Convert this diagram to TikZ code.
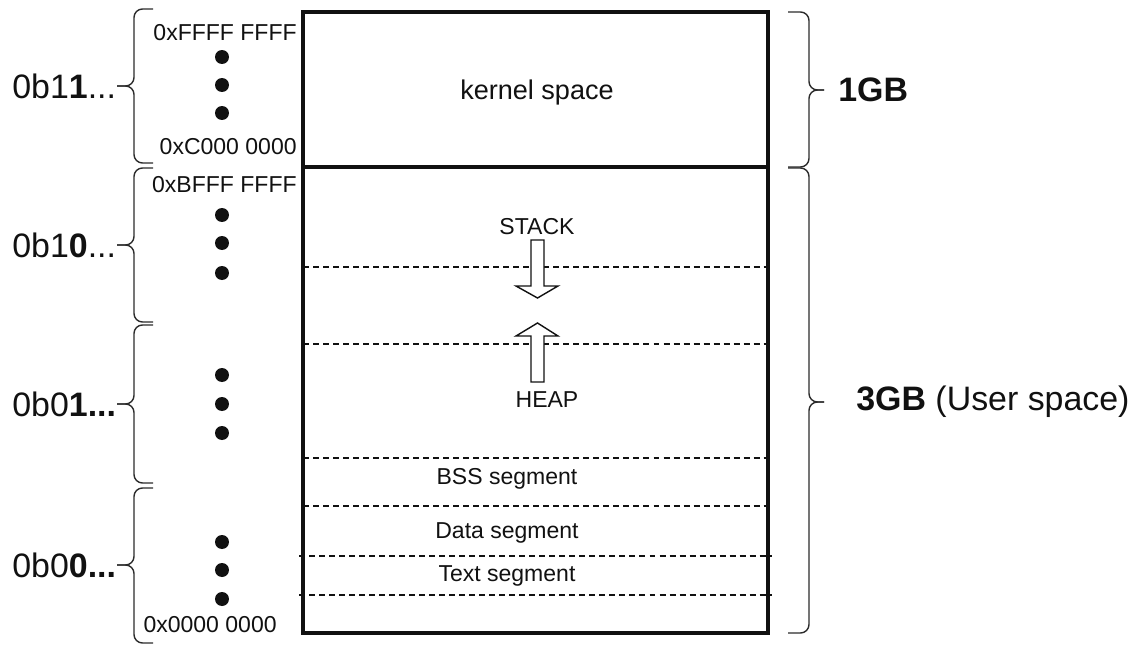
\documentclass[tikz,border=0pt]{standalone}
\usepackage{fontspec}
\setmainfont{Liberation Sans}
\definecolor{ink}{HTML}{111111}
\definecolor{brcol}{HTML}{2B2B2B}
\tikzset{
  mem/.style={draw=ink, line width=2pt},
  seg/.style={draw=ink, line width=0.8pt, dash pattern=on 3.4pt off 2.3pt},
  growarrow/.style={draw=ink, fill=white, line width=0.8pt, line join=miter},
  brc/.style={draw=brcol, line width=0.8pt, rounded corners=0.17cm},
  dot/.style={circle, fill=ink, inner sep=0pt, minimum size=0.28cm},
  addr/.style={text=ink, inner sep=0pt, font=\fontsize{13.1}{15}\selectfont},
  lab/.style={text=ink, inner sep=0pt, font=\fontsize{13.1}{15}\selectfont},
  big/.style={text=ink, inner sep=0pt, font=\fontsize{19.3}{22}\selectfont},
}

\begin{document}
\begin{tikzpicture}[x=0.02cm, y=-0.02cm]
  \useasboundingbox (0,0) rectangle (1144,659);
  \coordinate (TL) at (303,12);
  \coordinate (BR) at (768,633);
  \coordinate (KL) at (303,167);
  \coordinate (KR) at (768,167);
  \draw[mem] (TL) rectangle (BR);
  \draw[mem] (KL) -- (KR);
  \foreach \y/\a/\b in {267/303/768, 344/303/768, 458/303/768, 506/303/768, 556/299/772, 595/299/772}
    \draw[seg] (\a,\y) -- (\b,\y);
  \draw[growarrow] (531,240) -- (544,240) -- (544,286) -- (558,286) -- (537.5,298) -- (516,286) -- (531,286) -- cycle;
  \draw[growarrow] (531,382) -- (544,382) -- (544,336) -- (558,336) -- (537.5,323) -- (516,336) -- (531,336) -- cycle;
  \node[font=\fontsize{15.4}{18}\selectfont, text=ink, inner sep=0pt] (kern) at (537,93) {kernel space};
  \node[lab] (stack) at (537,227) {STACK};
  \node[lab] (heap) at (547,400) {HEAP};
  \node[lab] (bss) at (507,479) {BSS segment};
  \node[lab] (data) at (507,533) {Data segment};
  \node[lab] (text) at (507,576) {Text segment};
  \foreach \y [count=\i] in {57,85,113,215,243,273,375,404,433,542,570,599}
    \node[dot] (d\i) at (222,\y) {};
  \node[addr, anchor=east] (a1) at (297,33) {0xFFFF FFFF};
  \node[addr, anchor=east] (a2) at (297,147) {0xC000 0000};
  \node[addr, anchor=east] (a3) at (297,185) {0xBFFF FFFF};
  \node[addr, anchor=east] (a4) at (277,625) {0x0000 0000};
  \foreach \t/\m/\b in {9/86/163, 168/245/322, 325/404/483, 488/565/643} {
    \draw[brc] (153,\t) -- (134,\t) -- (134,\m) -- (117,\m);
    \draw[brc] (153,\b) -- (134,\b) -- (134,\m) -- (117,\m);
  }
  \node[big, anchor=west] (b11) at (12,86) {0b1\textbf{1}...};
  \node[big, anchor=west] (b10) at (12,245) {0b1\textbf{0}...};
  \node[big, anchor=west] (b01) at (12,404) {0b0\textbf{1...}};
  \node[big, anchor=west] (b00) at (12,565) {0b0\textbf{0...}};
  \foreach \t/\m/\b in {12/90/167, 168/402/633} {
    \draw[brc] (788,\t) -- (809,\t) -- (809,\m) -- (824,\m);
    \draw[brc] (788,\b) -- (809,\b) -- (809,\m) -- (824,\m);
  }
  \node[big, anchor=west] (kgb) at (838,90) {\textbf{1GB}};
  \node[big, anchor=west] (ugb) at (856,402) {\textbf{3GB} (User space)};
\end{tikzpicture}
\end{document}
